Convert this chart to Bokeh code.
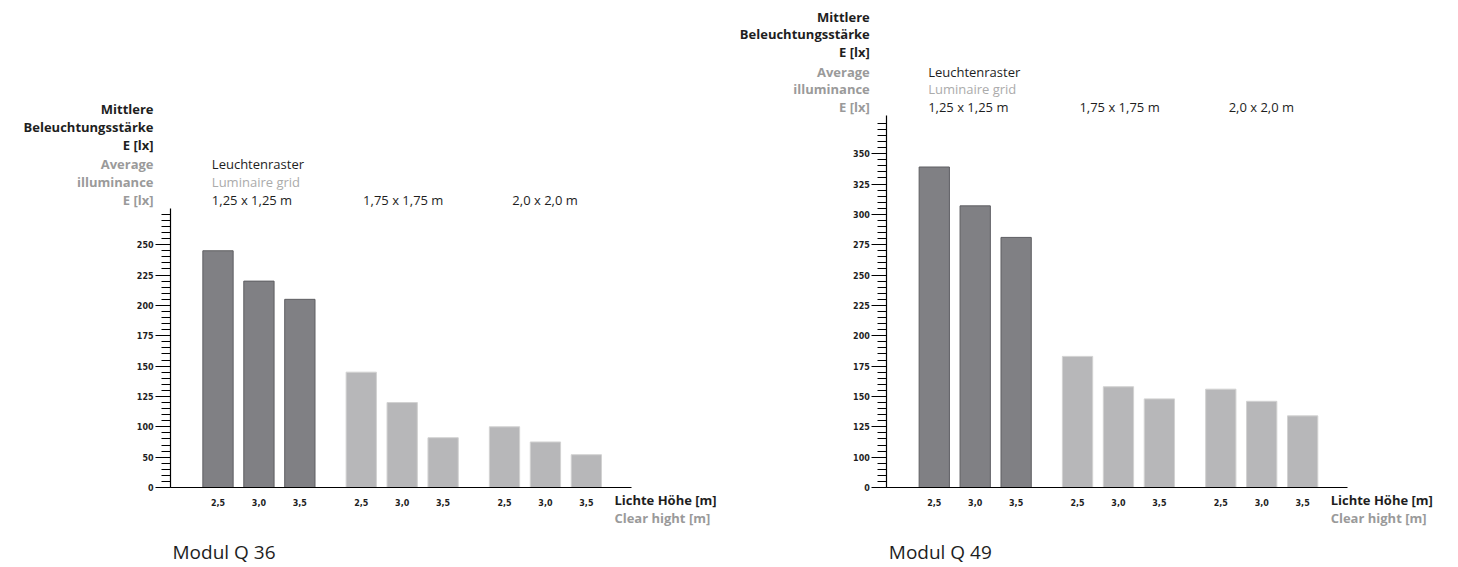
import numpy as np
from bokeh.plotting import figure
from bokeh.models import Range1d, FixedTicker, Label, LinearAxis
from bokeh.embed import file_html
from bokeh.resources import INLINE

# ---------------- data ----------------
grids = ["1,25 x 1,25 m", "1,75 x 1,75 m", "2,0 x 2,0 m"]
heights = ["2,5", "3,0", "3,5"]

q36_values = [245, 220, 205, 145, 120, 82, 100, 75, 54]
q49_values = [339, 307, 281, 183, 158, 148, 156, 146, 134]

q36_yticks = [0, 50, 100, 125, 150, 175, 200, 225, 250]
q49_yticks = [0, 100, 125, 150, 175, 200, 225, 250, 275, 300, 325, 350]

titles = ["Modul Q 36", "Modul Q 49"]

y_title_de = ["Mittlere", "Beleuchtungsstärke", "E [lx]"]
y_title_en = ["Average", "illuminance", "E [lx]"]
grid_title_de = "Leuchtenraster"
grid_title_en = "Luminaire grid"
x_title_de = "Lichte Höhe [m]"
x_title_en = "Clear hight [m]"

# ---------------- style / layout ----------------
FONT = "Open Sans"
TICK_FONT = "DejaVu Sans"
BLACK = "#1e1e1e"
GRAY = "#9a9a9a"
LGRAY = "#ababab"
DARK_FILL, DARK_LINE = "#808084", "#5e5e62"
LIGHT_FILL, LIGHT_LINE = "#b7b7b9", "#d2d2d2"
GROUP_STEP = 3.5
BAR_W = 0.74
PX_X = 40.93      # px per x unit (bar pitch)
PX_Y = 30.35      # px per y unit (tick spacing)
W, H = 1450, 566
X_START = -217.5 / PX_X
Y_START = -(H - 487) / PX_Y
AX_LEFT = -1.16          # y-axis position relative to first bar
AX_RIGHT = 10.1          # end of baseline relative to first bar
CHART_OFFSET = 17.5      # second chart offset in x units

p = figure(width=W, height=H,
           x_range=Range1d(X_START, X_START + W / PX_X),
           y_range=Range1d(Y_START, Y_START + H / PX_Y),
           output_backend="svg", toolbar_location=None,
           x_axis_location=None, y_axis_location=None,
           min_border=0)
p.outline_line_color = None
p.grid.visible = False
p.background_fill_color = "white"
p.border_fill_color = "white"


def lab(text, x, y, xo, yo, color=BLACK, bold=False, size="13px", align="left"):
    p.add_layout(Label(x=x, y=y, x_offset=xo, y_offset=yo, text=text,
                       text_font=FONT, text_font_size=size,
                       text_font_style="bold" if bold else "normal",
                       text_color=color, text_align=align,
                       text_baseline="middle"))


def draw_chart(x0, values, yticks, y_top, title):
    pos = np.arange(len(yticks))
    xs, tops, fills, lines = [], [], [], []
    for g in range(len(grids)):
        for i in range(len(heights)):
            k = g * len(heights) + i
            xs.append(x0 + g * GROUP_STEP + i)
            tops.append(float(np.interp(values[k], yticks, pos)))
            fills.append(DARK_FILL if g == 0 else LIGHT_FILL)
            lines.append(DARK_LINE if g == 0 else LIGHT_LINE)

    p.vbar(x=xs, top=tops, bottom=0, width=BAR_W, fill_color=fills,
           line_color=lines, line_width=1)

    x_left = x0 + AX_LEFT
    x_right = x0 + AX_RIGHT

    # x axis (baseline with height labels)
    xa = LinearAxis(fixed_location=0, bounds=(x_left, x_right))
    xa.ticker = FixedTicker(ticks=xs, minor_ticks=[])
    xa.major_label_overrides = {x: heights[j % len(heights)] for j, x in enumerate(xs)}
    xa.major_tick_line_color = None
    xa.minor_tick_line_color = None
    xa.axis_line_color = "black"
    xa.axis_line_width = 1.2
    xa.major_label_text_font = TICK_FONT
    xa.major_label_text_font_style = "bold"
    xa.major_label_text_font_size = "8px"
    xa.major_label_text_color = BLACK
    xa.major_label_standoff = 5
    p.add_layout(xa, "below")

    # y axis (broken scale: evenly spaced labelled ticks)
    minor = [round(v, 3) for v in np.arange(0, int(y_top) + 0.01, 0.2)]
    ya = LinearAxis(fixed_location=x_left, bounds=(0, y_top))
    ya.ticker = FixedTicker(ticks=list(pos), minor_ticks=minor)
    ya.major_label_overrides = {int(t): str(v) for t, v in zip(pos, yticks)}
    ya.major_tick_out = 15
    ya.major_tick_in = 0
    ya.minor_tick_out = 9
    ya.minor_tick_in = 0
    ya.major_tick_line_color = "black"
    ya.minor_tick_line_color = "black"
    ya.axis_line_color = "black"
    ya.axis_line_width = 1.2
    ya.major_label_text_font = TICK_FONT
    ya.major_label_text_font_style = "bold"
    ya.major_label_text_font_size = "8px"
    ya.major_label_text_color = BLACK
    ya.major_label_standoff = 2
    ya.major_label_text_baseline = "alphabetic"
    p.add_layout(ya, "left")

    # y title (right aligned, left of axis)
    line_h = 17.8
    for j, t in enumerate(y_title_en):
        lab(t, x_left, y_top, -17, 8.5 + (2 - j) * line_h, color=GRAY, bold=True, align="right")
    for j, t in enumerate(y_title_de):
        lab(t, x_left, y_top, -17, 63.5 + (2 - j) * line_h, color=BLACK, bold=True, align="right")

    # grid headings
    lab(grid_title_de, x0 - BAR_W / 2, y_top, 9, 8.5 + 2 * line_h, color=BLACK)
    lab(grid_title_en, x0 - BAR_W / 2, y_top, 9, 8.5 + line_h, color=LGRAY)
    offsets = [9, 17, 23]
    for g, t in enumerate(grids):
        lab(t, x0 + g * GROUP_STEP - BAR_W / 2, y_top, offsets[g], 8.5, color=BLACK)

    # x title
    lab(x_title_de, x_right, 0, -17, -12, color=BLACK, bold=True)
    lab(x_title_en, x_right, 0, -17, -30, color=GRAY, bold=True)

    # module title
    lab(title, x_left, 0, 2, -64, color=BLACK, size="19px")


draw_chart(0.0, q36_values, q36_yticks, 9.2, titles[0])
draw_chart(CHART_OFFSET, q49_values, q49_yticks, 12.25, titles[1])

open("out.html", "w").write(file_html(p, INLINE))
